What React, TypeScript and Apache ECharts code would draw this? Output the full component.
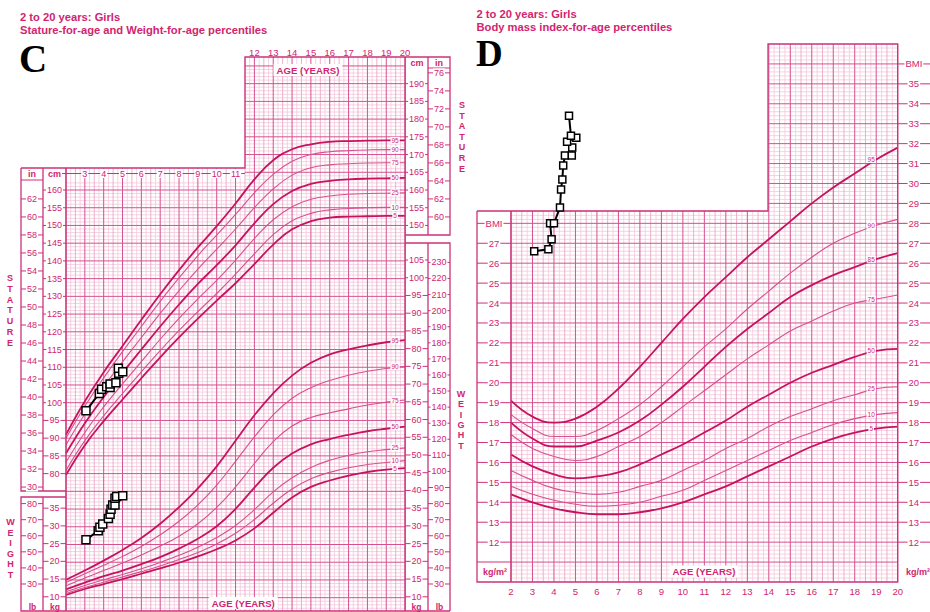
import { useEffect, useRef } from "react";
import * as echarts from "echarts";

// ---------------- DATA ----------------
const AGES = [2, 3, 4, 5, 6, 7, 8, 9, 10, 11, 12, 13, 14, 15, 16, 17, 18, 19, 20];

// Stature-for-age percentiles (cm)
const STATURE_P5 = [79.6, 88.0, 94.8, 100.9, 106.9, 112.8, 118.4, 123.7, 128.8, 133.7, 139.1, 144.6, 148.9, 151.2, 152.2, 152.5, 152.6, 152.7, 152.7];
const STATURE_P10 = [80.9, 89.3, 96.3, 102.6, 108.7, 114.7, 120.4, 125.7, 130.8, 136.3, 142.0, 147.4, 151.3, 153.4, 154.4, 154.8, 155.0, 155.1, 155.1];
const STATURE_P25 = [83.2, 91.6, 98.8, 105.3, 111.6, 117.9, 123.8, 129.3, 134.5, 140.2, 146.3, 151.6, 155.3, 157.4, 158.3, 158.8, 159.0, 159.1, 159.2];
const STATURE_P50 = [85.7, 94.2, 101.6, 108.4, 115.0, 121.5, 127.7, 133.5, 138.8, 144.4, 150.6, 156.0, 159.7, 161.7, 162.6, 163.0, 163.2, 163.3, 163.4];
const STATURE_P75 = [88.1, 96.8, 104.5, 111.5, 118.4, 125.2, 131.6, 137.7, 143.3, 149.0, 155.0, 160.3, 164.2, 166.3, 167.1, 167.4, 167.6, 167.7, 167.7];
const STATURE_P90 = [90.0, 99.0, 107.0, 114.4, 121.5, 128.6, 135.2, 141.5, 147.3, 153.1, 159.2, 164.4, 168.1, 170.0, 170.8, 171.1, 171.3, 171.4, 171.4];
const STATURE_P95 = [91.0, 100.4, 108.6, 116.0, 123.4, 130.6, 137.4, 143.8, 149.8, 156.2, 163.0, 168.4, 171.5, 172.9, 173.6, 173.8, 173.9, 174.0, 174.0];

// Weight-for-age percentiles (kg)
const WEIGHT_P5 = [10.5, 12.2, 13.6, 15.0, 16.5, 18.0, 19.6, 21.4, 23.4, 25.9, 29.3, 33.7, 38.0, 41.0, 42.8, 44.2, 45.2, 45.9, 46.3];
const WEIGHT_P10 = [10.9, 12.6, 14.1, 15.6, 17.1, 18.7, 20.5, 22.5, 24.9, 27.9, 31.8, 36.4, 40.4, 43.3, 45.1, 46.4, 47.3, 47.9, 48.4];
const WEIGHT_P25 = [11.4, 13.2, 14.8, 16.3, 17.9, 19.7, 21.7, 24.0, 26.7, 30.1, 34.6, 39.6, 43.6, 46.5, 48.5, 49.9, 50.9, 51.5, 52.0];
const WEIGHT_P50 = [12.1, 14.0, 15.8, 17.4, 19.2, 21.2, 23.6, 26.4, 29.9, 34.8, 40.8, 46.4, 50.4, 53.0, 54.5, 55.7, 56.7, 57.4, 58.0];
const WEIGHT_P75 = [13.1, 15.3, 17.4, 19.5, 21.8, 24.3, 27.1, 30.6, 35.2, 41.0, 47.6, 53.8, 58.2, 60.6, 61.9, 63.0, 64.1, 64.9, 65.5];
const WEIGHT_P90 = [14.0, 16.5, 18.9, 21.4, 24.2, 27.5, 31.3, 35.9, 41.5, 48.2, 55.1, 61.3, 66.0, 69.0, 71.0, 72.5, 73.6, 74.4, 75.0];
const WEIGHT_P95 = [14.8, 17.4, 20.2, 23.2, 26.6, 30.6, 35.3, 40.6, 46.8, 54.0, 61.2, 67.4, 72.4, 76.0, 78.4, 79.8, 80.9, 81.8, 82.4];

// BMI-for-age percentiles (kg/m²)
const BMI_P5 = [14.4, 14.0, 13.7, 13.5, 13.4, 13.4, 13.5, 13.7, 14.0, 14.4, 14.8, 15.3, 15.8, 16.3, 16.8, 17.2, 17.5, 17.7, 17.8];
const BMI_P10 = [14.8, 14.4, 14.1, 13.9, 13.8, 13.85, 14.0, 14.3, 14.6, 15.1, 15.6, 16.1, 16.6, 17.1, 17.5, 17.9, 18.2, 18.4, 18.5];
const BMI_P25 = [15.6, 15.1, 14.7, 14.5, 14.4, 14.5, 14.8, 15.1, 15.6, 16.1, 16.7, 17.2, 17.8, 18.3, 18.7, 19.1, 19.4, 19.7, 19.8];
const BMI_P50 = [16.4, 15.8, 15.4, 15.2, 15.3, 15.5, 15.9, 16.4, 16.9, 17.5, 18.1, 18.8, 19.4, 20.0, 20.5, 20.9, 21.3, 21.6, 21.7];
const BMI_P75 = [17.4, 16.7, 16.3, 16.1, 16.3, 16.8, 17.3, 18.0, 18.8, 19.6, 20.4, 21.2, 21.9, 22.6, 23.1, 23.6, 24.0, 24.2, 24.4];
const BMI_P85 = [18.0, 17.2, 16.8, 16.8, 17.1, 17.5, 18.1, 18.9, 19.8, 20.8, 21.8, 22.7, 23.5, 24.3, 24.9, 25.4, 25.8, 26.2, 26.5];
const BMI_P90 = [18.4, 17.7, 17.3, 17.3, 17.6, 18.2, 18.9, 19.8, 20.8, 21.8, 22.7, 23.7, 24.6, 25.5, 26.3, 27.0, 27.5, 27.9, 28.2];
const BMI_P95 = [19.1, 18.3, 18.0, 18.2, 18.8, 19.7, 20.8, 22.0, 23.2, 24.3, 25.3, 26.3, 27.2, 28.1, 29.0, 29.8, 30.5, 31.2, 31.8];

// Patient measurements
const STATURE_PATIENT_AGE = [3.06, 3.77, 3.89, 4.16, 4.34, 4.34, 4.65, 4.8, 4.78, 5.01];
const STATURE_PATIENT_CM = [97.7, 102.6, 103.8, 104.5, 104.3, 105.3, 105.6, 108.3, 109.7, 108.7];
const WEIGHT_PATIENT_AGE = [3.06, 3.71, 3.8, 3.95, 4.25, 4.34, 4.39, 4.48, 4.6, 4.6, 4.69, 5.01];
const WEIGHT_PATIENT_KG = [26.1, 28.6, 29.6, 30.5, 32.1, 33.3, 34.7, 35.9, 35.9, 37.8, 38.3, 38.5];
const BMI_PATIENT_AGE = [3.08, 3.74, 3.89, 3.82, 4.0, 4.28, 4.33, 4.39, 4.43, 4.51, 4.83, 4.85, 4.61, 5.04, 4.79, 4.7];
const BMI_PATIENT_VALUE = [26.6, 26.7, 27.2, 28.0, 28.0, 28.8, 29.7, 30.2, 30.9, 31.4, 31.4, 31.8, 32.1, 32.3, 32.4, 33.4];

const PCT_LABELS = ["5", "10", "25", "50", "75", "90", "95"];
const BMI_PCT_LABELS = ["5", "10", "25", "50", "75", "85", "90", "95"];

// Tick labels
const C_LOWER_AGE_LABELS = [3, 4, 5, 6, 7, 8, 9, 10, 11];
const C_UPPER_AGE_LABELS = [12, 13, 14, 15, 16, 17, 18, 19, 20];
const D_AGE_LABELS = [2, 3, 4, 5, 6, 7, 8, 9, 10, 11, 12, 13, 14, 15, 16, 17, 18, 19, 20];
const CM_LEFT_TICKS = [80, 85, 90, 95, 100, 105, 110, 115, 120, 125, 130, 135, 140, 145, 150, 155, 160];
const IN_LEFT_TICKS = [30, 32, 34, 36, 38, 40, 42, 44, 46, 48, 50, 52, 54, 56, 58, 60, 62];
const CM_RIGHT_TICKS = [150, 155, 160, 165, 170, 175, 180, 185, 190];
const IN_RIGHT_TICKS = [60, 62, 64, 66, 68, 70, 72, 74, 76];
const KG_RIGHT_TICKS = [10, 15, 20, 25, 30, 35, 40, 45, 50, 55, 60, 65, 70, 75, 80, 85, 90, 95, 100, 105];
const LB_RIGHT_TICKS = [30, 40, 50, 60, 70, 80, 90, 100, 110, 120, 130, 140, 150, 160, 170, 180, 190, 200, 210, 220, 230];
const KG_LEFT_TICKS = [10, 15, 20, 25, 30, 35];
const LB_LEFT_TICKS = [30, 40, 50, 60, 70, 80];
const BMI_LEFT_TICKS = [12, 13, 14, 15, 16, 17, 18, 19, 20, 21, 22, 23, 24, 25, 26, 27, 28];
const BMI_LEFT_LABELS = ["12", "13", "14", "15", "16", "17", "18", "19", "20", "21", "22", "23", "24", "25", "26", "27", "BMI"];
const BMI_RIGHT_TICKS = [12, 13, 14, 15, 16, 17, 18, 19, 20, 21, 22, 23, 24, 25, 26, 27, 28, 29, 30, 31, 32, 33, 34, 35, 36];
const BMI_RIGHT_LABELS = ["12", "13", "14", "15", "16", "17", "18", "19", "20", "21", "22", "23", "24", "25", "26", "27", "28", "29", "30", "31", "32", "33", "34", "35", "BMI"];

// ---------------- STYLE / LAYOUT ----------------
const PINK = "#d2246f";
const FRAME = "#cd3279";
const MAJOR = "#d6508f";
const MID = "#e89ec0";
const MINOR = "#f4c8dc";
const THICK = "#c5135f";
const THIN = "#d6518e";
const SANS = '"Liberation Sans", Arial, Helvetica, sans-serif';
const SERIF = '"Liberation Serif", "Times New Roman", "DejaVu Serif", serif';

const C_LEFT = 66;
const C_RIGHT = 405.1;
const C_TOP = 57;
const C_BOTTOM = 611;
const C_PX_PER_CM = 3.545;
const C_Y_AT_160 = 190;
const CM_MIN = 160 - (C_BOTTOM - C_Y_AT_160) / C_PX_PER_CM;
const CM_MAX = 160 + (C_Y_AT_160 - C_TOP) / C_PX_PER_CM;
const KG_SHIFT = 35.25;
const LB_PER_KG = 2.20462;
const CM_PER_IN = 2.54;
const C_LOWER_TOP_CM = 160 + (C_Y_AT_160 - 168) / C_PX_PER_CM;
const C_HEADER_CM = 160 + (C_Y_AT_160 - 180) / C_PX_PER_CM;
const C_BOX_AGE = 11.5;
const C_BOX_X = 245;

const D_LEFT = 511;
const D_RIGHT = 897.7;
const D_TOP = 44;
const D_BOTTOM = 582;
const BMI_MIN = 10;
const BMI_MAX = 37;
const D_PX_PER_BMI = (D_BOTTOM - D_TOP) / (BMI_MAX - BMI_MIN);
const D_LOWER_TOP_BMI = BMI_MAX - (211 - D_TOP) / D_PX_PER_BMI;
const D_BOX_AGE = 14;

// ---------------- HELPERS ----------------
function cGridSegments() {
  const segs: number[][] = [];
  for (let q = 0; q <= 72; q++) {
    const age = 2 + q / 4;
    const lvl = q % 4 === 0 ? 2 : q % 2 === 0 ? 1 : 0;
    const top = age >= C_BOX_AGE ? CM_MAX : C_LOWER_TOP_CM;
    segs.push([age, CM_MIN, age, top, lvl]);
  }
  for (let cm = Math.ceil(CM_MIN); cm <= 195; cm++) {
    const lvl = cm % 5 === 0 ? 2 : 0;
    const x0 = cm <= C_HEADER_CM ? 2 : C_BOX_AGE;
    segs.push([x0, cm, 20, cm, lvl]);
  }
  return segs;
}

function dGridSegments() {
  const segs: number[][] = [];
  for (let q = 0; q <= 72; q++) {
    const age = 2 + q / 4;
    const lvl = q % 4 === 0 ? 2 : q % 2 === 0 ? 1 : 0;
    const top = age >= D_BOX_AGE ? BMI_MAX : D_LOWER_TOP_BMI;
    segs.push([age, BMI_MIN, age, top, lvl]);
  }
  for (let i = 51; i <= 184; i++) {
    const b = i / 5;
    const lvl = i % 5 === 0 ? 2 : 0;
    const x0 = b < D_LOWER_TOP_BMI ? 2 : D_BOX_AGE;
    segs.push([x0, b, 20, b, lvl]);
  }
  return segs;
}

const gridRender = (params: any, api: any) => {
  const a = api.coord([api.value(0), api.value(1)]);
  const b = api.coord([api.value(2), api.value(3)]);
  const lvl = api.value(4);
  return {
    type: "line",
    z2: lvl,
    shape: { x1: a[0], y1: a[1], x2: b[0], y2: b[1] },
    style: { stroke: lvl === 2 ? MAJOR : lvl === 1 ? MID : MINOR, lineWidth: lvl === 2 ? 1 : 0.8 },
  };
};

function gridSeries(segs: number[][], xAxisIndex: number, yAxisIndex: number) {
  return {
    type: "custom",
    xAxisIndex,
    yAxisIndex,
    silent: true,
    z: 1,
    encode: { x: [0, 2], y: [1, 3] },
    data: segs,
    renderItem: gridRender,
  };
}

function tickColumn(values: number[], labels: string[], xAxisIndex: number, yAxisIndex: number, x1: number, x2: number, fontSize: number) {
  return {
    type: "custom",
    xAxisIndex,
    yAxisIndex,
    silent: true,
    z: 6,
    encode: { x: 0, y: 1 },
    data: values.map((v) => [2, v]),
    renderItem: (params: any, api: any) => {
      const y = api.coord([api.value(0), api.value(1)])[1];
      return {
        type: "group",
        children: [
          { type: "line", shape: { x1, y1: y, x2, y2: y }, style: { stroke: FRAME, lineWidth: 1 } },
          {
            type: "text",
            x: (x1 + x2) / 2,
            y,
            style: {
              text: labels[params.dataIndex],
              font: `${fontSize}px ${SANS}`,
              fill: PINK,
              align: "center",
              verticalAlign: "middle",
              backgroundColor: "#fff",
              padding: [0, 1],
            },
          },
        ],
      };
    },
  };
}

function pctLine(values: number[], thick: boolean, xAxisIndex: number, yAxisIndex: number) {
  return {
    type: "line",
    xAxisIndex,
    yAxisIndex,
    data: AGES.map((a, i) => [a, values[i]]),
    smooth: 0.45,
    showSymbol: false,
    symbol: "none",
    silent: true,
    z: 3,
    lineStyle: { color: thick ? THICK : THIN, width: thick ? 1.8 : 1.1 },
  };
}

function tagSeries(tables: number[][], names: string[], idx: number, dx: number, xAxisIndex: number, yAxisIndex: number) {
  return {
    type: "custom",
    xAxisIndex,
    yAxisIndex,
    silent: true,
    z: 5,
    encode: { x: 0, y: 1 },
    data: tables.map((t) => [AGES[idx], t[idx]]),
    renderItem: (params: any, api: any) => {
      const p = api.coord([api.value(0), api.value(1)]);
      return {
        type: "text",
        x: p[0] + dx,
        y: p[1],
        style: {
          text: names[params.dataIndex],
          font: `6.5px ${SANS}`,
          fill: PINK,
          align: "center",
          verticalAlign: "middle",
          backgroundColor: "#fff",
          padding: [0, 1],
        },
      };
    },
  };
}

function patient(ages: number[], vals: number[], xAxisIndex: number, yAxisIndex: number, size: number) {
  return {
    type: "line",
    xAxisIndex,
    yAxisIndex,
    data: ages.map((a, i) => [a, vals[i]]),
    symbol: "rect",
    symbolSize: size,
    showSymbol: true,
    silent: true,
    clip: false,
    z: 8,
    lineStyle: { color: "#000", width: 2 },
    itemStyle: { color: "#fff", borderColor: "#000", borderWidth: 1.5 },
  };
}

const L = (points: number[][], w = 1.3) => ({
  type: "polyline",
  z: 4,
  silent: true,
  shape: { points },
  style: { stroke: FRAME, lineWidth: w, fill: null },
});

const T = (x: number, y: number, text: string, font: string, extra: any = {}) => ({
  type: "text",
  x,
  y,
  z: 7,
  silent: true,
  style: { text, font, fill: PINK, align: "center", verticalAlign: "middle", ...extra },
});

function buildOption() {
  const bold9 = `bold 9px ${SANS}`;
  const bold85 = `bold 8.5px ${SANS}`;
  const ageHdr = `bold 9.6px ${SANS}`;
  const title = `bold 11.2px ${SANS}`;
  const graphics = [
    // panel C frames
    L([[21, 168], [C_BOX_X, 168], [C_BOX_X, 57], [450, 57], [450, 235], [C_RIGHT, 235]]),
    L([[428, 57], [428, 235]]),
    L([[428, 68], [450, 68]], 1),
    L([[C_RIGHT, 57], [C_RIGHT, 611]]),
    L([[C_LEFT, 168], [C_LEFT, 611]]),
    L([[21, 168], [21, 491], [C_LEFT, 491]]),
    L([[43, 168], [43, 491]]),
    L([[21, 180], [43, 180]], 1),
    L([[61, 173.5], [C_BOX_X, 173.5]], 1),
    L([[C_LEFT, 497], [21, 497], [21, 611], [450, 611]]),
    L([[43, 497], [43, 611]]),
    L([[C_RIGHT, 243], [450, 243], [450, 611]]),
    L([[428, 243], [428, 611]]),
    // panel D frames
    L([[477, 211], [768, 211], [768, 44], [D_RIGHT, 44], [D_RIGHT, 582], [477, 582], [477, 211]]),
    L([[D_LEFT, 211], [D_LEFT, 582]]),
    L([[477, 562], [D_LEFT, 562]], 1),
    // titles
    T(20, 16.5, "2 to 20 years: Girls", title, { align: "left" }),
    T(20, 30, "Stature-for-age and Weight-for-age percentiles", title, { align: "left" }),
    T(476.5, 13.5, "2 to 20 years: Girls", title, { align: "left" }),
    T(476.5, 27, "Body mass index-for-age percentiles", title, { align: "left" }),
    T(19, 58.5, "C", `bold 39px ${SERIF}`, { align: "left", fill: "#000" }),
    T(476, 53.5, "D", `bold 37px ${SERIF}`, { align: "left", fill: "#000" }),
    // column headers
    T(32, 173.5, "in", bold9),
    T(54.5, 173.5, "cm", bold9, { backgroundColor: "#fff", padding: [0, 1] }),
    T(417, 62.5, "cm", bold9),
    T(439, 62.5, "in", bold9),
    T(32.5, 606.5, "lb", bold85),
    T(55, 606.5, "kg", bold85),
    T(416.5, 606.5, "kg", bold85),
    T(439.5, 606.5, "lb", bold85),
    T(308, 70, "AGE (YEARS)", ageHdr, { backgroundColor: "#fff", padding: [1, 3] }),
    T(243.3, 603, "AGE (YEARS)", ageHdr, { backgroundColor: "#fff", padding: [1, 3] }),
    T(704, 571.5, "AGE (YEARS)", ageHdr, { backgroundColor: "#fff", padding: [1, 3] }),
    T(495, 572, "kg/m²", bold9),
    T(918, 572, "kg/m²", bold9),
    // vertical words
    T(10, 273, "S\nT\nA\nT\nU\nR\nE", bold9, { verticalAlign: "top", lineHeight: 10.7 }),
    T(10.5, 517, "W\nE\nI\nG\nH\nT", bold9, { verticalAlign: "top", lineHeight: 10.55 }),
    T(462, 99.7, "S\nT\nA\nT\nU\nR\nE", bold9, { verticalAlign: "top", lineHeight: 10.6 }),
    T(461, 388.8, "W\nE\nI\nG\nH\nT", bold9, { verticalAlign: "top", lineHeight: 10.35 }),
  ];

  const hiddenY = (gridIndex: number, min: number, max: number) => ({
    type: "value",
    gridIndex,
    min,
    max,
    show: false,
    splitLine: { show: false },
  });

  const statureTables = [STATURE_P5, STATURE_P10, STATURE_P25, STATURE_P50, STATURE_P75, STATURE_P90, STATURE_P95];
  const weightTables = [WEIGHT_P5, WEIGHT_P10, WEIGHT_P25, WEIGHT_P50, WEIGHT_P75, WEIGHT_P90, WEIGHT_P95];
  const bmiTables = [BMI_P5, BMI_P10, BMI_P25, BMI_P50, BMI_P75, BMI_P85, BMI_P90, BMI_P95];
  const thickPct = ["5", "50", "95"];
  const thickBmi = ["5", "50", "85", "95"];

  return {
    animation: false,
    backgroundColor: "#fff",
    grid: [
      { left: C_LEFT, top: C_TOP, width: C_RIGHT - C_LEFT, height: C_BOTTOM - C_TOP },
      { left: D_LEFT, top: D_TOP, width: D_RIGHT - D_LEFT, height: D_BOTTOM - D_TOP },
    ],
    xAxis: [
      {
        type: "value",
        gridIndex: 0,
        min: 2,
        max: 20,
        interval: 1,
        position: "top",
        axisLine: { show: false },
        axisTick: { show: false },
        splitLine: { show: false },
        axisLabel: {
          margin: 5,
          verticalAlign: "middle",
          color: PINK,
          fontSize: 9.5,
          fontFamily: SANS,
          formatter: (v: number) => (C_UPPER_AGE_LABELS.includes(v) ? String(v) : ""),
        },
      },
      {
        type: "value",
        gridIndex: 1,
        min: 2,
        max: 20,
        interval: 1,
        position: "bottom",
        axisLine: { show: false },
        axisTick: { show: false },
        splitLine: { show: false },
        axisLabel: {
          margin: 9,
          verticalAlign: "middle",
          color: PINK,
          fontSize: 9.5,
          fontFamily: SANS,
          formatter: (v: number) => (D_AGE_LABELS.includes(v) ? String(v) : ""),
        },
      },
    ],
    yAxis: [
      hiddenY(0, CM_MIN, CM_MAX),
      hiddenY(0, CM_MIN - KG_SHIFT, CM_MAX - KG_SHIFT),
      hiddenY(0, CM_MIN / CM_PER_IN, CM_MAX / CM_PER_IN),
      hiddenY(0, (CM_MIN - KG_SHIFT) * LB_PER_KG, (CM_MAX - KG_SHIFT) * LB_PER_KG),
      hiddenY(1, BMI_MIN, BMI_MAX),
    ],
    graphic: { elements: graphics },
    series: [
      gridSeries(cGridSegments(), 0, 0),
      gridSeries(dGridSegments(), 1, 4),
      ...statureTables.map((t, i) => pctLine(t, thickPct.includes(PCT_LABELS[i]), 0, 0)),
      ...weightTables.map((t, i) => pctLine(t, thickPct.includes(PCT_LABELS[i]), 0, 1)),
      ...bmiTables.map((t, i) => pctLine(t, thickBmi.includes(BMI_PCT_LABELS[i]), 1, 4)),
      tagSeries(statureTables, PCT_LABELS, 18, -10, 0, 0),
      tagSeries(weightTables, PCT_LABELS, 18, -10, 0, 1),
      tagSeries(bmiTables, BMI_PCT_LABELS, 17, -5, 1, 4),
      tickColumn(IN_LEFT_TICKS, IN_LEFT_TICKS.map(String), 0, 2, 21, 43, 9),
      tickColumn(CM_LEFT_TICKS, CM_LEFT_TICKS.map(String), 0, 0, 43, C_LEFT, 9),
      tickColumn(CM_RIGHT_TICKS, CM_RIGHT_TICKS.map(String), 0, 0, C_RIGHT, 428, 9),
      tickColumn(IN_RIGHT_TICKS, IN_RIGHT_TICKS.map(String), 0, 2, 428, 450, 9),
      tickColumn(KG_RIGHT_TICKS, KG_RIGHT_TICKS.map(String), 0, 1, C_RIGHT, 428, 9),
      tickColumn(LB_RIGHT_TICKS, LB_RIGHT_TICKS.map(String), 0, 3, 428, 450, 9),
      tickColumn(KG_LEFT_TICKS, KG_LEFT_TICKS.map(String), 0, 1, 43, C_LEFT, 9),
      tickColumn(LB_LEFT_TICKS, LB_LEFT_TICKS.map(String), 0, 3, 21, 43, 9),
      tickColumn(BMI_LEFT_TICKS, BMI_LEFT_LABELS, 1, 4, 477, D_LEFT, 9.5),
      tickColumn(BMI_RIGHT_TICKS, BMI_RIGHT_LABELS, 1, 4, D_RIGHT, 930, 9.5),
      {
        type: "custom",
        xAxisIndex: 0,
        yAxisIndex: 0,
        silent: true,
        z: 6,
        encode: { x: 0, y: 1 },
        data: C_LOWER_AGE_LABELS.map((a) => [a, C_LOWER_TOP_CM]),
        renderItem: (params: any, api: any) => {
          const p = api.coord([api.value(0), api.value(1)]);
          return {
            type: "text",
            x: p[0],
            y: 173.5,
            style: {
              text: String(C_LOWER_AGE_LABELS[params.dataIndex]),
              font: `9px ${SANS}`,
              fill: PINK,
              align: "center",
              verticalAlign: "middle",
              backgroundColor: "#fff",
              padding: [0, 1],
            },
          };
        },
      },
      patient(STATURE_PATIENT_AGE, STATURE_PATIENT_CM, 0, 0, 8),
      patient(WEIGHT_PATIENT_AGE, WEIGHT_PATIENT_KG, 0, 1, 8),
      patient(BMI_PATIENT_AGE, BMI_PATIENT_VALUE, 1, 4, 7),
    ],
  };
}

export default function App() {
  const ref = useRef<HTMLDivElement>(null);
  useEffect(() => {
    if (!ref.current) return;
    const chart = echarts.init(ref.current, undefined, { renderer: "svg" });
    chart.setOption(buildOption() as any);
    return () => chart.dispose();
  }, []);
  return (
    <div
      ref={ref}
      style={{ position: "absolute", left: 0, top: 0, width: 930, height: 612, background: "#fff" }}
    />
  );
}
